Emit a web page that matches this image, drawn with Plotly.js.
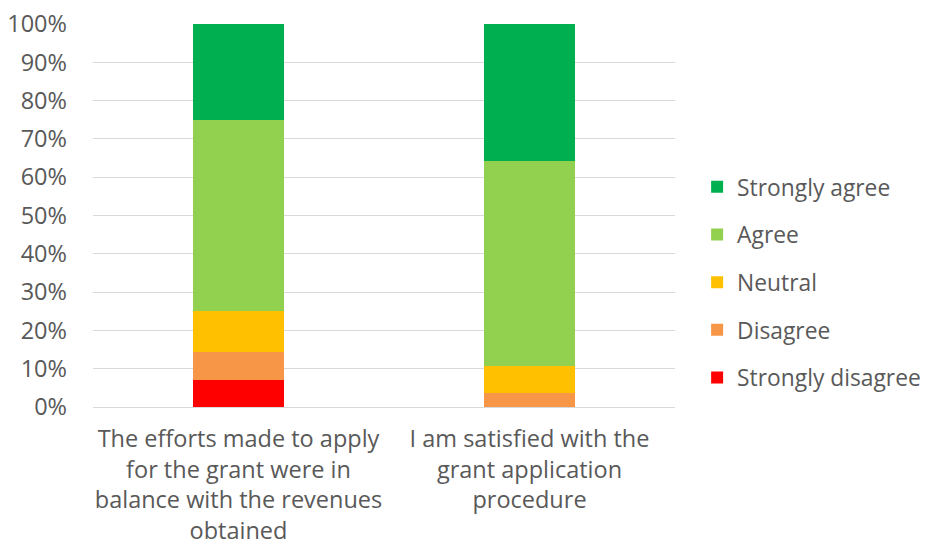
<!DOCTYPE html>
<html>
<head>
<meta charset="utf-8">
<script src="https://cdn.plot.ly/plotly-3.0.1.min.js"></script>
<style>html,body{margin:0;padding:0;background:#fff;}#chart{width:925px;height:547px;}</style>
</head>
<body>
<div id="chart"></div>
<script>
const categories = [
  "The efforts made to apply<br>for the grant were in<br>balance with the revenues<br>obtained",
  "I am satisfied with the<br>grant application<br>procedure"
];
const seriesNames = ["Strongly disagree", "Disagree", "Neutral", "Agree", "Strongly agree"];
const stronglyDisagree = [7.14, 0];
const disagree = [7.14, 3.57];
const neutral = [10.71, 7.14];
const agree = [50.0, 53.57];
const stronglyAgree = [25.0, 35.71];
const seriesValues = [stronglyDisagree, disagree, neutral, agree, stronglyAgree];
const colors = ["#FF0000", "#F79646", "#FFC000", "#92D050", "#00B050"];
const yTickVals = [0,10,20,30,40,50,60,70,80,90,100];
const yTickText = yTickVals.map(v => v + "%");

const traces = seriesNames.map((name, i) => ({
  type: "bar",
  name: name,
  x: [0, 1],
  y: seriesValues[i],
  marker: {color: colors[i], line: {width: 0}},
  legendgroup: "g" + i,
  legendrank: 1000 - i,
  hoverinfo: "skip"
}));

const font = {family: "'Open Sans', Lato, sans-serif", size: 23.5, color: "#595959"};
const legendFont = {family: "'Open Sans', Lato, sans-serif", size: 22.8, color: "#595959"};

const layout = {
  width: 925, height: 547,
  margin: {l: 93, r: 250, t: 24, b: 140, autoexpand: false},
  barmode: "stack",
  bargap: 0.69,
  paper_bgcolor: "#fff",
  plot_bgcolor: "#fff",
  font: font,
  showlegend: true,
  legend: {
    x: 1.038, xanchor: "left",
    y: 0.325, yanchor: "middle",
    traceorder: "grouped",
    tracegroupgap: 15,
    font: legendFont,
    itemwidth: 30
  },
  xaxis: {
    tickmode: "array",
    tickvals: [0, 1],
    ticktext: categories,
    range: [-0.5, 1.5],
    showgrid: false,
    zeroline: false,
    showline: true,
    linecolor: "#D9D9D9",
    linewidth: 1,
    ticks: "",
    ticklabelstandoff: 11,
    tickfont: font,
    fixedrange: true
  },
  yaxis: {
    range: [0, 100],
    tickmode: "array",
    tickvals: yTickVals,
    ticktext: yTickText,
    showgrid: true,
    gridcolor: "#D9D9D9",
    gridwidth: 1,
    zeroline: false,
    showline: false,
    ticks: "",
    ticklabelstandoff: 25,
    tickfont: font,
    fixedrange: true
  }
};

Plotly.newPlot("chart", traces, layout, {displayModeBar: false, staticPlot: true});
</script>
</body>
</html>
